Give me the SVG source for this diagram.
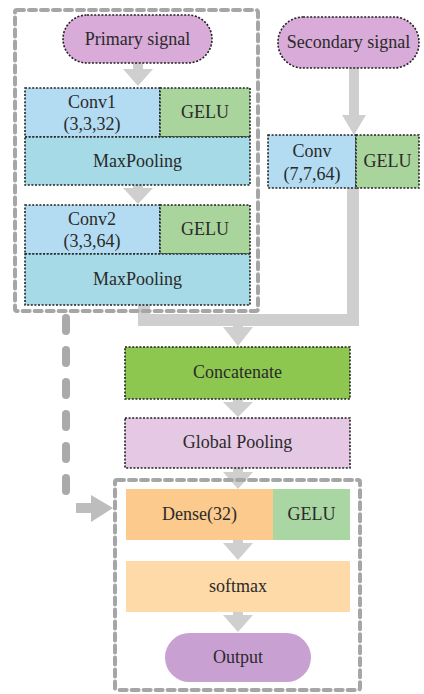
<svg xmlns="http://www.w3.org/2000/svg" width="424" height="694" viewBox="0 0 424 694" font-family="'Liberation Serif', 'DejaVu Serif', serif">
<style>
.t{font-family:'Liberation Serif','DejaVu Serif',serif;font-size:18px;fill:#2a2a2a;text-anchor:middle}
.dot{stroke:#222;stroke-width:1.6;stroke-dasharray:2 1.6}
.grp{fill:none;stroke:#a6a6a6;stroke-width:4;stroke-dasharray:7 5;stroke-linecap:round}
.arr{fill:#cfcfcf}
</style>
<rect width="424" height="694" fill="#ffffff"/>
<g id="connectors">
  <path d="M353,188 V320 H144 V305" fill="none" stroke="#cfcfcf" stroke-width="12"/>
  <polygon class="arr" points="233,320 243,320 243,327 253,327 238,346 223,327 233,327"/>
  <polygon class="arr" points="133,63 143,63 143,69 153,69 138,86 123,69 133,69"/>
  <polygon class="arr" points="133,185 143,185 143,188 153,188 138,204 123,188 133,188"/>
  <polygon class="arr" points="349,68 359,68 359,115 366,115 354,135 342,115 349,115"/>
  <polygon class="arr" points="233,399 243,399 243,402 253,402 238,417 223,402 233,402"/>
  <polygon class="arr" points="233,468 243,468 243,472 253,472 238,489 223,472 233,472"/>
  <polygon class="arr" points="233,540 243,540 243,543 253,543 238,560 223,543 233,543"/>
  <polygon class="arr" points="233,612 243,612 243,615 253,615 238,632 223,615 233,615"/>
  <line x1="66" y1="318" x2="66" y2="505" stroke="#aaaaaa" stroke-width="8" stroke-linecap="round" stroke-dasharray="13 19"/>
  <polygon points="76,503 91,503 91,495 113,508 91,522 91,513 76,513" fill="#bdbdbd"/>
</g>
<g id="group-primary">
  <rect class="grp" x="15" y="10" width="243" height="301" rx="2"/>
</g>
<g id="group-output">
  <rect class="grp" x="115" y="480" width="245" height="210" rx="2"/>
</g>
<g id="primary-signal">
  <rect x="63" y="15" width="149" height="48" rx="24" fill="#d8abd8" class="dot"/>
  <text class="t" x="137.5" y="45">Primary signal</text>
</g>
<g id="conv1">
  <rect x="25" y="88" width="135" height="49" fill="#b3dcf3" class="dot"/>
  <text class="t" x="92" y="108">Conv1</text>
  <text class="t" x="92" y="130">(3,3,32)</text>
</g>
<g id="gelu1">
  <rect x="160" y="88" width="90" height="49" fill="#a9d49c" class="dot"/>
  <text class="t" x="205" y="118">GELU</text>
</g>
<g id="maxpool1">
  <rect x="25" y="137" width="225" height="48" fill="#a6dae6" class="dot"/>
  <text class="t" x="137.5" y="167">MaxPooling</text>
</g>
<g id="conv2">
  <rect x="25" y="205" width="135" height="49" fill="#b3dcf3" class="dot"/>
  <text class="t" x="92" y="225">Conv2</text>
  <text class="t" x="92" y="247">(3,3,64)</text>
</g>
<g id="gelu2">
  <rect x="160" y="205" width="90" height="49" fill="#a9d49c" class="dot"/>
  <text class="t" x="205" y="235">GELU</text>
</g>
<g id="maxpool2">
  <rect x="25" y="254" width="225" height="51" fill="#a6dae6" class="dot"/>
  <text class="t" x="137.5" y="285">MaxPooling</text>
</g>
<g id="secondary-signal">
  <rect x="278" y="17" width="141" height="51" rx="25" fill="#d8abd8" class="dot"/>
  <text class="t" x="348.5" y="48">Secondary signal</text>
</g>
<g id="conv3">
  <rect x="268" y="135" width="88" height="53" fill="#b3dcf3" class="dot"/>
  <text class="t" x="312" y="157">Conv</text>
  <text class="t" x="312" y="180">(7,7,64)</text>
</g>
<g id="gelu3">
  <rect x="356" y="135" width="63" height="53" fill="#a9d49c" class="dot"/>
  <text class="t" x="387.5" y="167">GELU</text>
</g>
<g id="concatenate">
  <rect x="125" y="347" width="225" height="52" fill="#8dc74f" class="dot"/>
  <text class="t" x="237.5" y="378">Concatenate</text>
</g>
<g id="global-pooling">
  <rect x="125" y="418" width="225" height="50" fill="#e4c8e4" class="dot"/>
  <text class="t" x="237.5" y="448">Global Pooling</text>
</g>
<g id="dense">
  <rect x="126" y="489" width="147" height="51" fill="#fbca8c"/>
  <text class="t" x="199.5" y="520">Dense(32)</text>
</g>
<g id="gelu4">
  <rect x="273" y="489" width="77" height="51" fill="#a9d6a3"/>
  <text class="t" x="311.5" y="520">GELU</text>
</g>
<g id="softmax">
  <rect x="126" y="561" width="224" height="51" fill="#fddaa8"/>
  <text class="t" x="238" y="592">softmax</text>
</g>
<g id="output">
  <rect x="165" y="633" width="146" height="49" rx="24.5" fill="#c9a0d2"/>
  <text class="t" x="238" y="663">Output</text>
</g>
</svg>
